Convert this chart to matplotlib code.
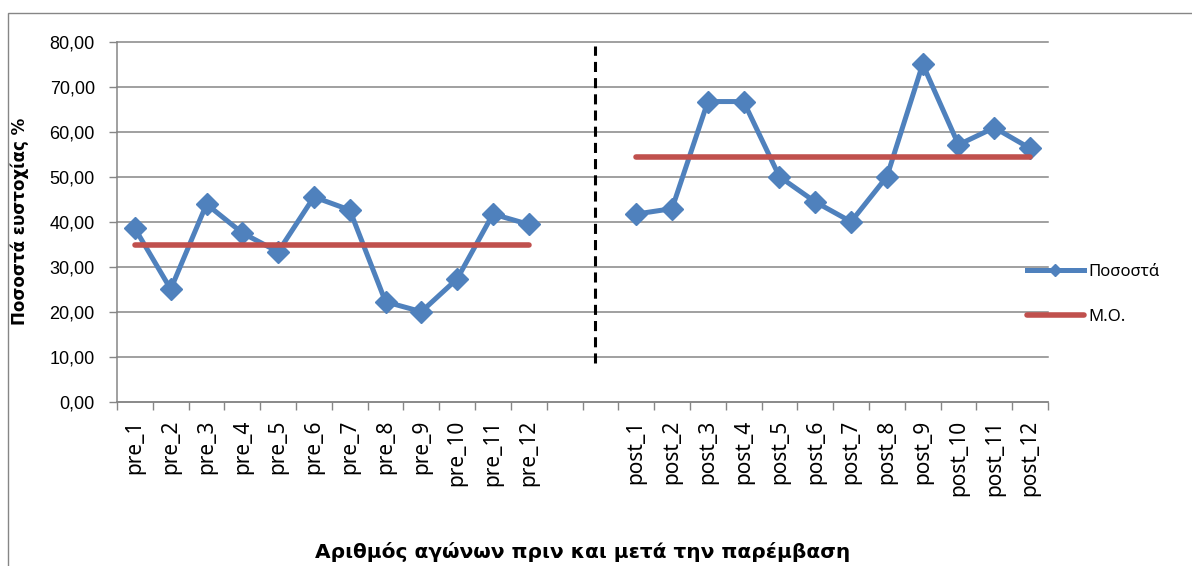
import numpy as np
import matplotlib; matplotlib.use("Agg")
import matplotlib.pyplot as plt
from matplotlib.patches import Rectangle

# categories: 12 pre, two empty slots, 12 post
cats = ['pre_1','pre_2','pre_3','pre_4','pre_5','pre_6','pre_7','pre_8','pre_9','pre_10','pre_11','pre_12',
        '','',
        'post_1','post_2','post_3','post_4','post_5','post_6','post_7','post_8','post_9','post_10','post_11','post_12']
pre_vals = [38.5, 25.0, 43.9, 37.5, 33.3, 45.5, 42.6, 22.2, 20.0, 27.3, 41.7, 39.4]
post_vals = [41.7, 42.9, 66.7, 66.7, 50.0, 44.4, 40.0, 50.0, 75.0, 57.1, 60.9, 56.3]
pre_mean = 34.8
post_mean = 54.3
yticks = [0, 10, 20, 30, 40, 50, 60, 70, 80]
split_x = 12.84          # dashed separator (category units)
split_y = (8.5, 79.0)

BLUE = '#4F81BD'; RED = '#C0504D'; GRAY = '#868686'
FONT = ['Noto Sans', 'DejaVu Sans']
BOLD = ['DejaVu Sans']
NUM = ['Liberation Sans', 'DejaVu Sans']

vals = np.array(pre_vals + [np.nan, np.nan] + post_vals)
means = np.array([pre_mean]*len(pre_vals) + [np.nan, np.nan] + [post_mean]*len(post_vals))
x = np.arange(len(cats))

fig = plt.figure(figsize=(11.92, 5.66), dpi=100)
fig.patches.append(Rectangle((8/1192, -0.1), 1.2, 1.1 - 13/566, transform=fig.transFigure,
                             fill=False, edgecolor=GRAY, lw=1.0))
ax = fig.add_axes([117/1192, 1-401.7/566, (1048-117)/1192, 360/566])

ax.plot(x, vals, color=BLUE, lw=3.6, marker='D', ms=11, mfc=BLUE, mec=BLUE,
        solid_joinstyle='miter', zorder=3, label='Ποσοστά')
ax.plot(x, means, color=RED, lw=4, solid_capstyle='round', zorder=4, label='Μ.Ο.')
ax.plot([split_x, split_x], split_y, color='black', lw=2.2, dashes=(3.3, 2), zorder=2)

ax.set_xlim(-0.5, len(cats)-0.5)
ax.set_ylim(0, 80)
ax.set_yticks(yticks)
ax.set_yticklabels([f"{v:.2f}".replace('.', ',') for v in yticks], family=NUM, fontsize=13)
ax.yaxis.grid(True, color=GRAY, lw=1.1)
for gl in ax.get_ygridlines(): gl.set_clip_on(False)
ax.set_axisbelow(True)

ax.set_xticks(np.arange(-0.5, len(cats)), minor=False)
ax.set_xticklabels([])
ax.set_xticks(x, minor=True)
ax.set_xticklabels(cats, minor=True, rotation=90, family=FONT, fontsize=15)
ax.tick_params(axis='x', which='major', length=6, width=1, color=GRAY)
ax.tick_params(axis='x', which='minor', length=0, pad=13)
ax.tick_params(axis='y', length=6, width=1, color=GRAY, pad=10)

for s in ['top', 'right']: ax.spines[s].set_visible(False)
for s in ['left', 'bottom']:
    ax.spines[s].set_color(GRAY); ax.spines[s].set_linewidth(1.1)

ax.set_ylabel('Ποσοστά ευστοχίας %', family=BOLD, fontsize=12, fontweight='bold')
ax.yaxis.set_label_coords((29-117)/931, 0.5)
ax.set_xlabel('Αριθμός αγώνων πριν και μετά την παρέμβαση', family=BOLD, fontsize=14.5, fontweight='bold')
ax.xaxis.set_label_coords(0.5, (401.7-552)/360)
ax.xaxis.label.set_va('center')

leg = fig.legend(loc='upper left', bbox_to_anchor=(1027/1192, 1-264/566), frameon=False,
                 prop={'family': FONT, 'size': 12}, handlelength=3.4, handletextpad=0.3,
                 labelspacing=1.75, borderpad=0, borderaxespad=0, markerscale=0.6)

plt.savefig('out.png', dpi=100)
